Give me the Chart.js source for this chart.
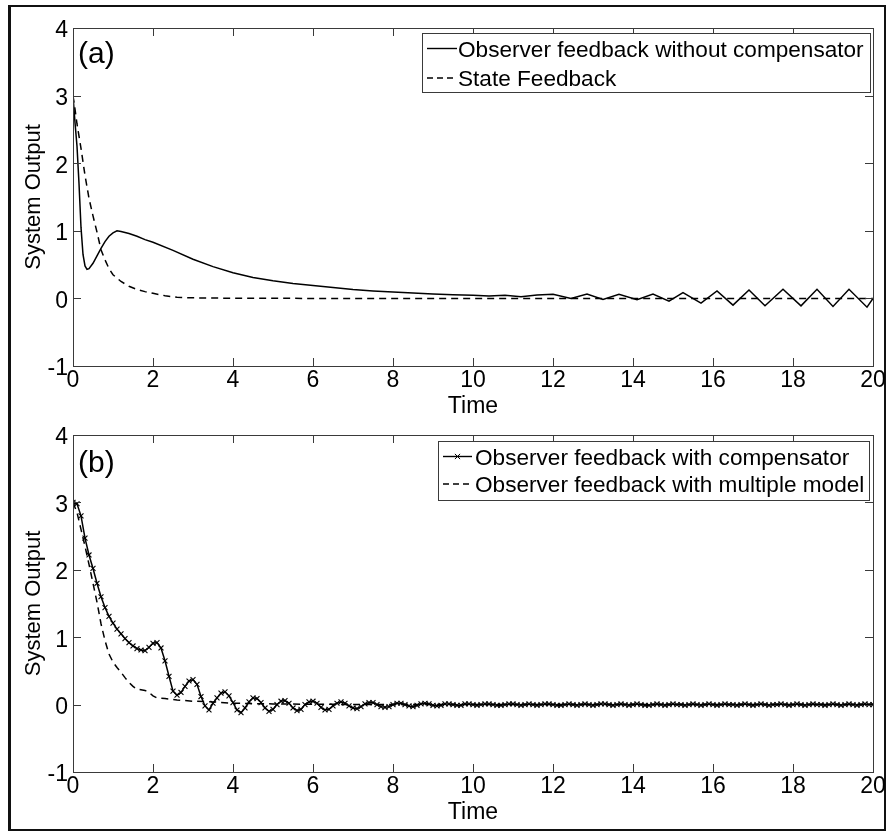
<!DOCTYPE html>
<html>
<head>
<meta charset="utf-8">
<title>System Output</title>
<script src="https://cdn.jsdelivr.net/npm/chart.js@4.4.1/dist/chart.umd.min.js"></script>
<style>
  html, body { margin: 0; padding: 0; background: #fff; }
  #wrap { position: relative; width: 888px; height: 832px; }
  #wrap canvas { position: absolute; left: 0; top: 0; }
  #frame { position: absolute; left: 8px; top: 5px; width: 873px; height: 822px;
           border: 2px solid #111; border-left-width: 3px; }
</style>
</head>
<body>
<div id="wrap">
  <div id="frame"></div>
  <canvas id="chartA" width="888" height="832"></canvas>
  <canvas id="chartB" width="888" height="832"></canvas>
</div>
<script>
// ---- data ----
const xTickValues = [0, 2, 4, 6, 8, 10, 12, 14, 16, 18, 20];
const yTickValues = [-1, 0, 1, 2, 3, 4];

// (a) observer feedback without compensator
const timeObsNoComp = [0, 0.05, 0.1, 0.15, 0.2, 0.25, 0.3, 0.35, 0.4, 0.5, 0.6, 0.7, 0.8, 0.9, 1.0, 1.1, 1.2,
  1.4, 1.6, 1.8, 2.0, 2.5, 3.0, 3.5, 4.0, 4.5, 5.0, 5.5, 6.0, 6.5, 7.0, 7.5, 8.0, 8.5, 9.0, 9.5, 10.0,
  10.4, 10.8, 11.2, 11.6, 12.0, 12.45, 12.85, 13.25, 13.65, 14.1, 14.5, 14.9, 15.25, 15.7, 16.1, 16.5,
  16.9, 17.3, 17.75, 18.2, 18.6, 19.0, 19.4, 19.85, 20.0];
const obsNoComp = [3.0, 2.6, 2.25, 1.7, 1.05, 0.65, 0.48, 0.43, 0.44, 0.52, 0.63, 0.74, 0.84, 0.92, 0.97, 1.0, 0.99,
  0.96, 0.92, 0.87, 0.83, 0.71, 0.58, 0.47, 0.38, 0.31, 0.26, 0.22, 0.19, 0.16, 0.13, 0.11, 0.095, 0.08, 0.065, 0.055, 0.045,
  0.035, 0.045, 0.025, 0.05, 0.06, 0.0, 0.065, -0.015, 0.06, -0.02, 0.065, -0.04, 0.085, -0.07, 0.11, -0.1,
  0.125, -0.11, 0.135, -0.11, 0.135, -0.12, 0.135, -0.13, 0.0];

// (a) state feedback
const timeStateFb = [0, 0.05, 0.1, 0.2, 0.3, 0.4, 0.5, 0.6, 0.7, 0.8, 0.9, 1.0, 1.2, 1.4, 1.6, 1.8, 2.0, 2.3, 2.6, 3.0, 4.0, 6.0, 20];
const stateFb = [3.0, 2.8, 2.58, 2.22, 1.82, 1.48, 1.22, 0.98, 0.72, 0.57, 0.44, 0.35, 0.25, 0.18, 0.13, 0.1, 0.075, 0.04, 0.016, 0.008, 0.002, 0, 0];

// (b) observer feedback with compensator, sampled every 0.1 s
const compValues = [
  3.00, 2.98, 2.80, 2.47, 2.22, 2.02, 1.80, 1.60, 1.44, 1.31,
  1.21, 1.12, 1.05, 0.98, 0.92, 0.87, 0.83, 0.81, 0.80, 0.85,
  0.91, 0.92, 0.84, 0.65, 0.42, 0.20, 0.14, 0.18, 0.27, 0.35,
  0.37, 0.30, 0.12, -0.02, -0.08, 0.02, 0.10, 0.17, 0.19, 0.13,
  0.03, -0.08, -0.12, -0.05, 0.04, 0.10, 0.09, 0.03, -0.05, -0.10,
  -0.07, 0.00, 0.05, 0.06, 0.02, -0.05, -0.09, -0.07, 0.00, 0.04,
  0.05, 0.02, -0.04, -0.08, -0.07, -0.02, 0.02, 0.04, 0.02, -0.02,
  -0.05, -0.06, -0.03, 0.01, 0.03, 0.03, 0.00, -0.03, -0.04, -0.03,
  0.00, 0.02, 0.02, 0.00, -0.02, -0.03, -0.01, 0.01, 0.02, 0.01,
  -0.01, -0.02, -0.01, 0.01, 0.01, 0.00, -0.01, -0.01, 0.01, 0.01,
  0.00, -0.01, 0.00, 0.01, 0.01, 0.00, -0.01, -0.01, 0.00, 0.01,
  0.01, 0.00, -0.01, 0.00, 0.01, 0.00, -0.01, 0.00, 0.01, 0.01,
  0.00, -0.01, -0.01, 0.00, 0.01, 0.00, -0.01, 0.00, 0.01, 0.00,
  -0.01, 0.00, 0.01, 0.01, 0.00, -0.01, 0.00, 0.01, 0.00, -0.01,
  0.00, 0.01, 0.00, -0.01, -0.01, 0.00, 0.01, 0.00, -0.01, 0.00,
  0.01, 0.00, 0.00, -0.01, 0.00, 0.01, 0.00, -0.01, 0.00, 0.01,
  0.00, -0.01, 0.00, 0.01, 0.00, 0.00, -0.01, 0.00, 0.01, 0.00,
  -0.01, 0.00, 0.01, 0.00, -0.01, 0.00, 0.00, 0.01, 0.00, -0.01,
  0.00, 0.01, 0.00, -0.01, 0.00, 0.01, 0.00, 0.00, -0.01, 0.00,
  0.01, 0.00, -0.01, 0.00, 0.01, 0.00, -0.01, 0.00, 0.01, 0.00,
  0.00];
const timeComp = compValues.map((_, i) => i / 10);

// (b) observer feedback with multiple model
const timeMulti = [0, 0.1, 0.2, 0.3, 0.4, 0.5, 0.6, 0.7, 0.8, 0.9, 1.0, 1.1, 1.2, 1.3, 1.4, 1.5, 1.6, 1.7, 1.8, 1.9,
  2.0, 2.1, 2.3, 2.6, 3.0, 3.5, 4.0, 5.0, 6.0, 8.0, 20];
const multiModel = [3.0, 2.85, 2.6, 2.35, 2.08, 1.8, 1.52, 1.2, 0.95, 0.75, 0.63, 0.55, 0.48, 0.4, 0.33, 0.27, 0.23, 0.22, 0.21, 0.18,
  0.13, 0.1, 0.09, 0.07, 0.05, 0.04, 0.02, 0.01, 0.005, 0, 0];

// ---- drawing ----
const FONT = "'Liberation Sans', Arial, Helvetica, sans-serif";
Chart.defaults.font.family = FONT;
Chart.defaults.color = '#000';

const toPoints = (xs, ys) => xs.map((x, i) => ({ x: x, y: ys[i] }));

function lineSet(label, xs, ys, dashed, marker) {
  return {
    label: label,
    data: toPoints(xs, ys),
    showLine: true,
    borderColor: '#000',
    backgroundColor: '#000',
    borderWidth: 1.5,
    borderDash: dashed ? [7, 5] : [],
    pointStyle: marker ? 'crossRot' : 'circle',
    pointRadius: marker ? 3.5 : 0,
    pointBorderWidth: 1.1,
    pointBorderColor: '#000',
    tension: 0,
    fill: false
  };
}

// box, inward ticks, panel tag and legend the way MATLAB draws them
const matlabBox = {
  id: 'matlabBox',
  afterDatasetsDraw(chart, args, opts) {
    const { ctx, chartArea: a } = chart;
    const xs = chart.scales.x, ys = chart.scales.y;
    ctx.save();
    ctx.strokeStyle = '#3a3a3a';
    ctx.lineWidth = 1;
    ctx.setLineDash([]);
    ctx.beginPath();
    xs.ticks.forEach(t => {
      const p = Math.round(xs.getPixelForValue(t.value)) + 0.5;
      ctx.moveTo(p, a.bottom); ctx.lineTo(p, a.bottom - 8);
      ctx.moveTo(p, a.top); ctx.lineTo(p, a.top + 8);
    });
    ys.ticks.forEach(t => {
      const p = Math.round(ys.getPixelForValue(t.value)) + 0.5;
      ctx.moveTo(a.left, p); ctx.lineTo(a.left + 8, p);
      ctx.moveTo(a.right, p); ctx.lineTo(a.right - 8, p);
    });
    ctx.stroke();
    ctx.strokeRect(Math.round(a.left) + 0.5, Math.round(a.top) + 0.5, Math.round(a.width), Math.round(a.height));

    // panel tag
    ctx.fillStyle = '#000';
    ctx.font = '30px ' + FONT;
    ctx.textAlign = 'left';
    ctx.textBaseline = 'alphabetic';
    ctx.fillText(opts.tag, a.left + 5, a.top + opts.tagDy);

    // legend
    const lg = opts.legend;
    ctx.fillStyle = '#fff';
    ctx.fillRect(lg.left, lg.top, lg.right - lg.left, lg.bottom - lg.top);
    ctx.strokeStyle = '#3a3a3a';
    ctx.strokeRect(lg.left + 0.5, lg.top + 0.5, lg.right - lg.left, lg.bottom - lg.top);
    ctx.font = '22.6px ' + FONT;
    chart.data.datasets.forEach((ds, i) => {
      const y = lg.rowY[i];
      ctx.strokeStyle = '#000';
      ctx.lineWidth = 1.4;
      ctx.setLineDash(ds.borderDash.length ? [6, 4] : []);
      ctx.beginPath();
      ctx.moveTo(lg.x0, y); ctx.lineTo(lg.x1, y);
      ctx.stroke();
      ctx.setLineDash([]);
      if (ds.pointRadius > 0) {
        const cx = (lg.x0 + lg.x1) / 2, r = 2.6;
        ctx.lineWidth = 1;
        ctx.beginPath();
        ctx.moveTo(cx - r, y - r); ctx.lineTo(cx + r, y + r);
        ctx.moveTo(cx - r, y + r); ctx.lineTo(cx + r, y - r);
        ctx.stroke();
      }
      ctx.fillStyle = '#000';
      ctx.fillText(ds.label, lg.textX, y + 8);
    });
    ctx.restore();
  }
};

function makePanel(id, datasets, pad, axisH, titleBottom, tag, tagDy, legend) {
  return new Chart(document.getElementById(id), {
    type: 'scatter',
    data: { datasets: datasets },
    options: {
      responsive: false,
      animation: false,
      events: [],
      layout: { padding: pad },
      plugins: {
        legend: { display: false },
        tooltip: { enabled: false },
        matlabBox: { tag: tag, tagDy: tagDy, legend: legend }
      },
      scales: {
        x: {
          type: 'linear', min: 0, max: 20,
          afterBuildTicks: s => { s.ticks = xTickValues.map(v => ({ value: v })); },
          afterFit: s => { s.height = axisH; },
          grid: { display: true, drawOnChartArea: false, drawTicks: false },
          border: { display: false },
          ticks: { font: { size: 23 }, color: '#000', padding: 1, maxRotation: 0, autoSkip: false },
          title: { display: true, text: 'Time', font: { size: 23 }, color: '#000',
                   padding: { top: 0, bottom: titleBottom } }
        },
        y: {
          type: 'linear', min: -1, max: 4,
          afterBuildTicks: s => { s.ticks = yTickValues.map(v => ({ value: v })); },
          afterFit: s => { s.width = 73; },
          grid: { display: true, drawOnChartArea: false, drawTicks: false },
          border: { display: false },
          ticks: { font: { size: 23 }, color: '#000', padding: 5, labelOffset: 3, autoSkip: false },
          title: { display: true, text: 'System Output', font: { size: 22 }, color: '#000',
                   padding: { top: 21, bottom: 0 } }
        }
      }
    },
    plugins: [matlabBox]
  });
}

makePanel('chartA', [
  lineSet('Observer feedback without compensator', timeObsNoComp, obsNoComp, false, false),
  lineSet('State Feedback', timeStateFb, stateFb, true, false)
], { left: 0, top: 28, right: 15, bottom: 406 }, 60, 6, '(a)', 35,
  { left: 422, top: 33, right: 870, bottom: 92, x0: 427, x1: 457, textX: 458, rowY: [48.5, 78] });

makePanel('chartB', [
  lineSet('Observer feedback with compensator', timeComp, compValues, false, true),
  lineSet('Observer feedback with multiple model', timeMulti, multiModel, true, false)
], { left: 0, top: 435, right: 15, bottom: 0 }, 60, 6, '(b)', 37,
  { left: 438, top: 441, right: 869, bottom: 500, x0: 443, x1: 472, textX: 475, rowY: [456.5, 484] });
</script>
</body>
</html>
